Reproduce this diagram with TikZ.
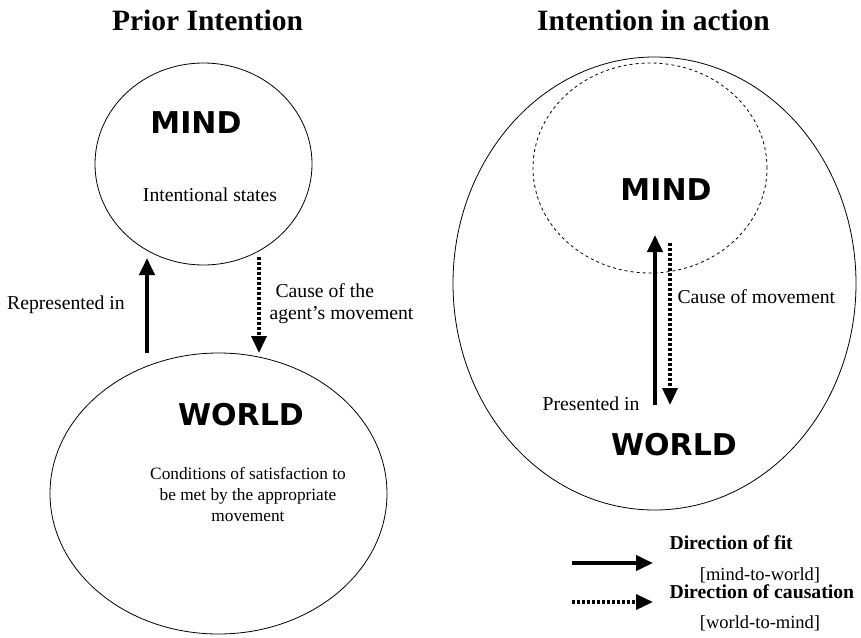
\documentclass[tikz,border=0pt]{standalone}
\usepackage{fontspec}
\setmainfont{Liberation Serif}
\newfontfamily\boxfont{DejaVu Sans}
\usetikzlibrary{shapes.geometric,arrows.meta}
\tikzset{
    oval/.style ={
        ellipse,
        draw,
        line width=0.8pt,
        inner sep=0pt
    },
    title/.style ={font=\fontsize{29.5}{32}\selectfont\bfseries},
    big/.style ={font=\boxfont\fontsize{30}{32}\selectfont\bfseries},
    txt/.style ={font=\fontsize{19.7}{22}\selectfont},
    small/.style ={font=\fontsize{17.3}{21}\selectfont, align=center},
    fitarrow/.style ={line width=4pt, -{Triangle[width=15pt,length=17pt]}},
    causearrow/.style ={line width=3.5pt, dash pattern=on 3pt off 2pt, -{Triangle[width=15pt,length=17pt]}}
}
\begin{document}
\begin{tikzpicture}[x=1pt,y=-1pt]
        \useasboundingbox (0,0) rectangle (861,637);
        % prior intention
        \node[title] (PRIOR) at(207.5,20) {Prior Intention};
        \node[oval, minimum width=217pt, minimum height=202pt] (MINDL) at(203.5,164) {};
        \node[oval, minimum width=337pt, minimum height=281pt] (WORLDL) at(218.5,493.5) {};
        \node[big] (MINDLT) at(196,123) {MIND};
        \node[txt] (STATES) at(210,195) {Intentional states};
        \node[big] (WORLDLT) at(241,415) {WORLD};
        \node[small] (COND) at(248,494) {Conditions of satisfaction to\\be met by the appropriate\\movement};
        \coordinate (REPA) at(147,353);
        \coordinate (REPB) at(147,258);
        \coordinate (CAUA) at(259,257);
        \coordinate (CAUB) at(259,353);
        \draw[fitarrow] (REPA)--(REPB);
        \draw[causearrow] (CAUA)--(CAUB);
        \node[txt] (REPT) at(66,305) {Represented in};
        \node[txt, anchor=west, align=left] (CAUT) at(266,304) {\hspace{6pt}Cause of the\\agent's movement};
        % intention in action
        \node[title] (INACTION) at(653.5,20) {Intention in action};
        \node[oval, minimum width=403pt, minimum height=453pt] (WORLDR) at(654.5,283.5) {};
        \node[oval, dashed, minimum width=234pt, minimum height=210pt] (MINDR) at(650,168) {};
        \node[big] (MINDRT) at(666,190) {MIND};
        \node[big] (WORLDRT) at(674,445) {WORLD};
        \coordinate (PREA) at(655,405);
        \coordinate (PREB) at(655,235);
        \coordinate (MOVA) at(670,243);
        \coordinate (MOVB) at(670,405);
        \draw[fitarrow] (PREA)--(PREB);
        \draw[causearrow] (MOVA)--(MOVB);
        \node[txt, anchor=west] (MOVT) at(674,297) {Cause of movement};
        \node[txt, anchor=east] (PRET) at(643,404) {Presented in};
        % legend
        \coordinate (KEYA) at(572,563);
        \coordinate (KEYB) at(653,563);
        \coordinate (KEYC) at(572,602);
        \coordinate (KEYD) at(653,602);
        \draw[fitarrow] (KEYA)--(KEYB);
        \draw[causearrow] (KEYC)--(KEYD);
        \node[txt, font=\fontsize{19.7}{22}\selectfont\bfseries, anchor=west] (FIT) at(666,543) {Direction of fit};
        \node[txt, font=\fontsize{18.5}{22}\selectfont] (M2W) at(760,575) {[mind-to-world]};
        \node[txt, font=\fontsize{19.7}{22}\selectfont\bfseries, anchor=west] (CAUS) at(666,592) {Direction of causation};
        \node[txt, font=\fontsize{18.5}{22}\selectfont] (W2M) at(760,623) {[world-to-mind]};
    \end{tikzpicture}
\end{document}
